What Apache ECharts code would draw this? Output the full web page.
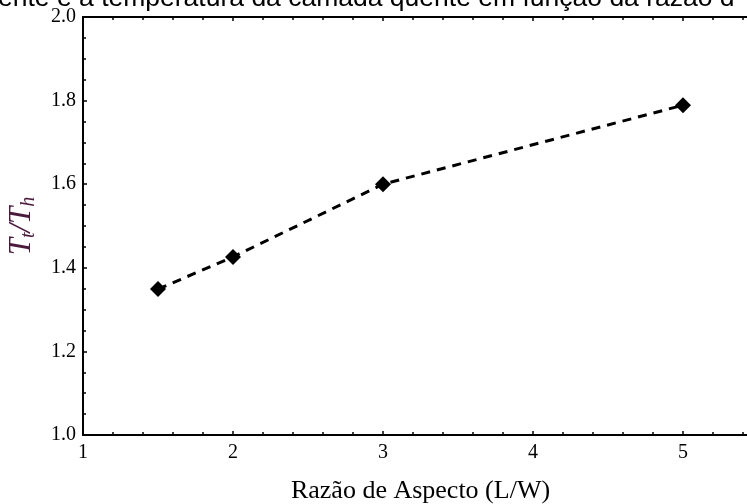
<!DOCTYPE html>
<html>
<head>
<meta charset="utf-8">
<script src="https://cdn.jsdelivr.net/npm/echarts@6/dist/echarts.min.js"></script>
<style>
html,body{margin:0;padding:0;background:#fff;}
#chart{width:747px;height:504px;}
</style>
</head>
<body>
<div id="chart"></div>
<script>
var aspectRatio = [1.5, 2, 3, 5];
var tempRatio = [1.349, 1.426, 1.600, 1.789];
var xTicks = [1, 2, 3, 4, 5];
var yTicks = [1.0, 1.2, 1.4, 1.6, 1.8, 2.0];
var xTitle = 'Razão de Aspecto (L/W)';
var captionText = 'ente e a temperatura da camada quente em função da razão d';

var points = aspectRatio.map(function (x, i) { return [x, tempRatio[i]]; });
var serif = '"Liberation Serif", "DejaVu Serif", serif';

var chart = echarts.init(document.getElementById('chart'));
var axisBase = {
  axisLine: { show: true, onZero: false, lineStyle: { color: '#000', width: 2 } },
  axisTick: { show: true, inside: true, length: 4, lineStyle: { color: '#000', width: 1.5 } },
  minorTick: { show: true, length: 3, lineStyle: { color: '#000', width: 1.5 } },
  splitLine: { show: false }
};
chart.setOption({
  animation: false,
  backgroundColor: '#fff',
  grid: { left: 83, top: 17, width: 675, height: 418, containLabel: false, outerBoundsMode: 'none' },
  xAxis: [
    Object.assign({}, axisBase, {
      type: 'value', min: 1, max: 5.5, interval: 1, position: 'bottom',
      minorTick: Object.assign({}, axisBase.minorTick, { splitNumber: 5 }),
      axisLabel: {
        color: '#000', fontFamily: serif, fontSize: 20, margin: 8,
        customValues: xTicks,
        formatter: function (v) { return String(v); }
      },
      name: xTitle, nameLocation: 'middle', nameGap: 43,
      nameTextStyle: { color: '#000', fontFamily: serif, fontSize: 26 }
    }),
    Object.assign({}, axisBase, {
      type: 'value', min: 1, max: 5.5, interval: 1, position: 'top',
      minorTick: Object.assign({}, axisBase.minorTick, { splitNumber: 5 }),
      axisLabel: { show: false }
    })
  ],
  yAxis: [
    Object.assign({}, axisBase, {
      type: 'value', min: 1.0, max: 2.0, interval: 0.2, position: 'left',
      minorTick: Object.assign({}, axisBase.minorTick, { splitNumber: 4 }),
      axisLabel: {
        color: '#000', fontFamily: serif, fontSize: 20, margin: 7,
        customValues: yTicks,
        formatter: function (v) { return v.toFixed(1); }
      },
      name: '{T|T}{s|t}{T|/T}{s|h}', nameLocation: 'middle', nameGap: 44, nameRotate: 90,
      nameTextStyle: {
        rich: {
          T: { fontFamily: serif, fontStyle: 'italic', fontSize: 31, color: '#4a1a3c', lineHeight: 34, verticalAlign: 'middle' },
          s: { fontFamily: serif, fontStyle: 'italic', fontSize: 20, color: '#4a1a3c', lineHeight: 34, verticalAlign: 'bottom' }
        }
      }
    })
  ],
  graphic: [{
    type: 'text', left: -2, top: -15, silent: true,
    style: { text: captionText, fontFamily: '"Liberation Sans", Arial, sans-serif', fontSize: 26.5, fill: '#000' }
  }],
  series: [{
    type: 'line', data: points, xAxisIndex: 0, yAxisIndex: 0,
    lineStyle: { color: '#000', width: 3, type: [9, 7] },
    symbol: 'diamond', symbolSize: 16,
    itemStyle: { color: '#000' }
  }]
});
</script>
</body>
</html>
